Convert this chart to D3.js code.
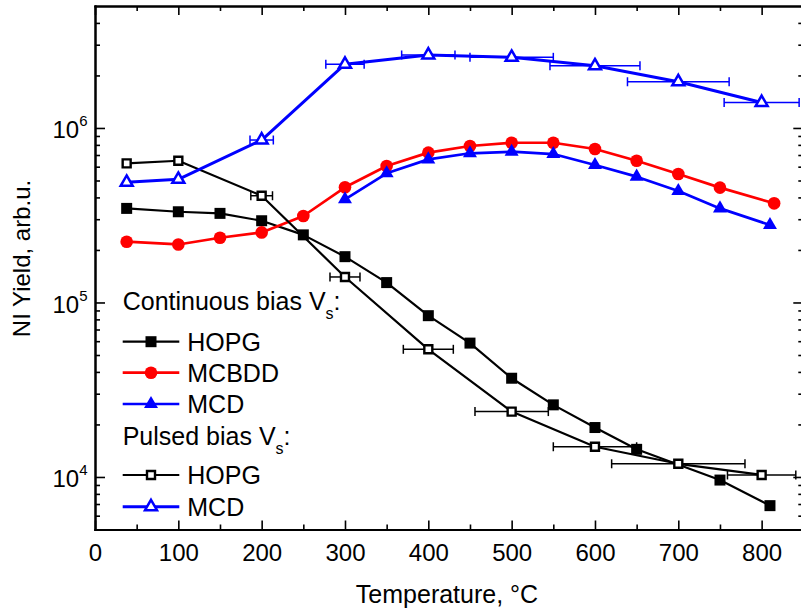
<!DOCTYPE html>
<html><head><meta charset="utf-8">
<script src="https://cdn.jsdelivr.net/npm/d3@7"></script>
<style>
body{margin:0;background:#fff}
svg{display:block}
text{font-family:"Liberation Sans",Arial,Helvetica,sans-serif}
</style>
</head><body>
<svg id="chart" width="801" height="612"></svg>
<script>
// ---------- data ----------
const contHOPG_T = [38,100,150,200,250,300,350,400,450,500,550,600,650,750,810];
const contHOPG_V = [346e3,331e3,324e3,294e3,244e3,183e3,130e3,84e3,58.5e3,36.8e3,25.9e3,19.2e3,14.4e3,9.6e3,6.85e3];

const contMCBDD_T = [38,100,150,200,250,300,350,400,450,500,550,600,650,700,750,815];
const contMCBDD_V = [223e3,215e3,235e3,252e3,313e3,457e3,605e3,722e3,788e3,823e3,823e3,758e3,649e3,545e3,455e3,370e3];

const contMCD_T = [300,350,400,450,500,550,600,650,700,750,810];
const contMCD_V = [390e3,550e3,661e3,716e3,731e3,709e3,613e3,526e3,435e3,346e3,278e3];

const pulsHOPG_T = [38,100,200,300,400,500,600,700,800];
const pulsHOPG_V = [627e3,649e3,409e3,140e3,53.9e3,23.7e3,14.9e3,11.9e3,10.27e3];
const pulsHOPG_Err = [0,0,13,18,30,44,50,80,41];

const pulsMCD_T = [38,100,200,300,400,500,600,700,800];
const pulsMCD_V = [488e3,508e3,853e3,2.32e6,2.62e6,2.54e6,2.27e6,1.84e6,1.40e6];
const pulsMCD_Err = [0,0,14,23,32,50,54,61,45];

const xMajorTicks = [0,100,200,300,400,500,600,700,800];
const xMinorTicks = [50,150,250,350,450,550,650,750,850];
const yMajorTicks = [1e4,1e5,1e6];
const yMinorTicks = [6e3,7e3,8e3,9e3,2e4,3e4,4e4,5e4,6e4,7e4,8e4,9e4,2e5,3e5,4e5,5e5,6e5,7e5,8e5,9e5,2e6,3e6,4e6];

const xTitle = "Temperature, °C";
const yTitle = "NI Yield, arb.u.";

// ---------- setup ----------
const svg = d3.select("#chart");
const L = 95, R = 803.3, T = 6, B = 529.5;
const x = d3.scaleLinear().domain([0,850]).range([L,R]);
const y = d3.scaleLog().domain([5e3,5e6]).range([B,T]);
const FONT = 24, LFONT = 25;

function styleAxis(g){
  g.select(".domain").attr("stroke","#000").attr("stroke-width",2).attr("stroke-linecap","square");
  g.selectAll(".tick line").attr("stroke","#000").attr("stroke-width",1.6);
  g.selectAll(".tick text").attr("font-size",FONT).attr("font-family",'"Liberation Sans",Arial,sans-serif').attr("fill","#000");
}

// minor ticks
svg.append("g").attr("transform",`translate(0,${B})`)
  .call(d3.axisBottom(x).tickValues(xMinorTicks).tickSize(-5).tickSizeOuter(0).tickFormat("")).call(styleAxis);
svg.append("g").attr("transform",`translate(0,${T})`)
  .call(d3.axisTop(x).tickValues(xMinorTicks).tickSize(-5).tickSizeOuter(0).tickFormat("")).call(styleAxis);
svg.append("g").attr("transform",`translate(${L},0)`)
  .call(d3.axisLeft(y).tickValues(yMinorTicks).tickSize(-5).tickSizeOuter(0).tickFormat("")).call(styleAxis);
svg.append("g").attr("transform",`translate(${R},0)`)
  .call(d3.axisRight(y).tickValues(yMinorTicks).tickSize(-5).tickSizeOuter(0).tickFormat("")).call(styleAxis);

// major ticks
svg.append("g").attr("transform",`translate(0,${B})`)
  .call(d3.axisBottom(x).tickValues(xMajorTicks).tickSize(-9).tickSizeOuter(0).tickPadding(14).tickFormat(d3.format("d")))
  .call(styleAxis);
svg.append("g").attr("transform",`translate(0,${T})`)
  .call(d3.axisTop(x).tickValues(xMajorTicks).tickSize(-9).tickSizeOuter(0).tickFormat("")).call(styleAxis);
const yAx = svg.append("g").attr("transform",`translate(${L},0)`)
  .call(d3.axisLeft(y).tickValues(yMajorTicks).tickSize(-10).tickSizeOuter(0).tickPadding(7.5).tickFormat(""))
  .call(styleAxis);
yAx.selectAll(".tick text").attr("dy","0.4em").each(function(d){
  const t = d3.select(this);
  t.append("tspan").text("10");
  t.append("tspan").attr("font-size",15).attr("dy",-12).text(Math.round(Math.log10(d)));
});
svg.append("g").attr("transform",`translate(${R},0)`)
  .call(d3.axisRight(y).tickValues(yMajorTicks).tickSize(-10).tickSizeOuter(0).tickFormat("")).call(styleAxis);

// axis titles
svg.append("text").attr("x",447).attr("y",603).attr("text-anchor","middle").attr("font-size",LFONT).text(xTitle);
svg.append("text").attr("transform","translate(30,258.5) rotate(-90)").attr("text-anchor","middle").attr("font-size",FONT).text(yTitle);

// ---------- series ----------
const line = d3.line().x(d=>x(d.t)).y(d=>y(d.v));
const sym = {
  sqF:{type:d3.symbolSquare,size:121,fill:"#000",stroke:"none",sw:0},
  ciF:{type:d3.symbolCircle,size:125,fill:"#f00",stroke:"none",sw:0},
  trF:{type:d3.symbolTriangle,size:85,fill:"#00f",stroke:"none",sw:0},
  sqO:{type:d3.symbolSquare,size:64,fill:"#fff",stroke:"#000",sw:2.4},
  trO:{type:d3.symbolTriangle,size:62,fill:"#fff",stroke:"#00f",sw:2.5}
};
function zip(ts,vs,es){ return ts.map((t,i)=>({t,v:vs[i],e:es?es[i]:0})); }

function drawSeries(data,color,lw,s){
  const g = svg.append("g");
  const eb = g.selectAll(".eb").data(data.filter(d=>d.e>0)).enter().append("g")
    .attr("stroke",color).attr("stroke-width",1.5).attr("fill","none");
  eb.append("line").attr("x1",d=>x(d.t-d.e)).attr("x2",d=>x(d.t+d.e)).attr("y1",d=>y(d.v)).attr("y2",d=>y(d.v));
  eb.append("line").attr("x1",d=>x(d.t-d.e)).attr("x2",d=>x(d.t-d.e)).attr("y1",d=>y(d.v)-4.5).attr("y2",d=>y(d.v)+4.5);
  eb.append("line").attr("x1",d=>x(d.t+d.e)).attr("x2",d=>x(d.t+d.e)).attr("y1",d=>y(d.v)-4.5).attr("y2",d=>y(d.v)+4.5);
  g.append("path").datum(data).attr("d",line).attr("fill","none").attr("stroke",color).attr("stroke-width",lw).attr("stroke-linejoin","round");
  g.selectAll(".m").data(data).enter().append("path")
    .attr("transform",d=>`translate(${x(d.t)},${y(d.v)})`)
    .attr("d",d3.symbol().type(s.type).size(s.size))
    .attr("fill",s.fill).attr("stroke",s.stroke).attr("stroke-width",s.sw).attr("stroke-linejoin","miter");
}

drawSeries(zip(contHOPG_T,contHOPG_V),"#000",2.2,sym.sqF);
drawSeries(zip(contMCBDD_T,contMCBDD_V),"#f00",2.7,sym.ciF);
drawSeries(zip(contMCD_T,contMCD_V),"#00f",2.7,sym.trF);
drawSeries(zip(pulsHOPG_T,pulsHOPG_V,pulsHOPG_Err),"#000",2.2,sym.sqO);
drawSeries(zip(pulsMCD_T,pulsMCD_V,pulsMCD_Err),"#00f",3,sym.trO);

// ---------- legend ----------
const lg = svg.append("g").attr("font-size",LFONT);
function header(yBase,label){
  const t = lg.append("text").attr("x",122.7).attr("y",yBase);
  t.append("tspan").text(label+" V");
  t.append("tspan").attr("font-size",16).attr("dy",9).text("s");
  t.append("tspan").attr("dy",-9).text(":");
}
function entry(yc,color,lw,s,label){
  lg.append("line").attr("x1",122.7).attr("x2",179.3).attr("y1",yc).attr("y2",yc).attr("stroke",color).attr("stroke-width",lw);
  lg.append("path").attr("transform",`translate(151,${yc})`).attr("d",d3.symbol().type(s.type).size(s.size))
    .attr("fill",s.fill).attr("stroke",s.stroke).attr("stroke-width",s.sw);
  lg.append("text").attr("x",187.3).attr("y",yc+9).text(label);
}
header(309.5,"Continuous bias");
entry(341.7,"#000",2.2,sym.sqF,"HOPG");
entry(372.7,"#f00",2.7,sym.ciF,"MCBDD");
entry(404,"#00f",2.7,sym.trF,"MCD");
header(444.5,"Pulsed bias");
entry(475,"#000",2.2,sym.sqO,"HOPG");
entry(506.7,"#00f",3,sym.trO,"MCD");
</script>
</body></html>
